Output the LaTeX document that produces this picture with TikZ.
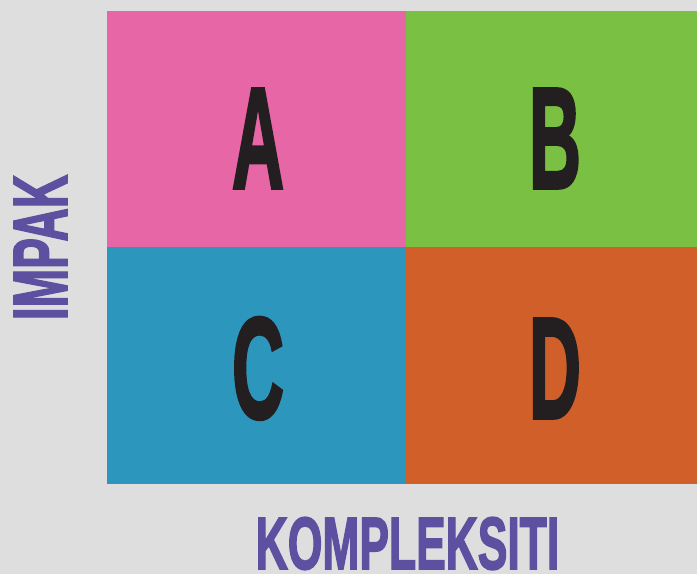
\documentclass[tikz,border=0pt]{standalone}
\usepackage{fontspec}
\usepackage{graphicx}
\newfontfamily\heavy[FakeBold=2.5]{Liberation Sans}
\definecolor{bgc}{HTML}{DEDEDE}
\definecolor{qpink}{HTML}{E766A5}
\definecolor{qgreen}{HTML}{7AC143}
\definecolor{qblue}{HTML}{2C96BC}
\definecolor{qorange}{HTML}{D15F2A}
\definecolor{ink}{HTML}{231F20}
\definecolor{axis}{HTML}{5E50A0}
\tikzset{
  quad/.style={fill=#1, draw=none},
  letter/.style={text=ink, inner sep=0pt, anchor=base, font=\heavy\bfseries\fontsize{144}{144}\selectfont},
  axislabel/.style={text=axis, inner sep=0pt, anchor=base, font=\heavy\bfseries\fontsize{77}{77}\selectfont}
}
\begin{document}
\begin{tikzpicture}[x=1pt,y=-1pt]
\fill[bgc] (0,0) rectangle (697,574);
\useasboundingbox (0,0) rectangle (697,574);
\fill[quad=qpink] (107,11) rectangle (406,247);
\fill[quad=qgreen] (406,11) rectangle (697,247);
\fill[quad=qblue] (107,247) rectangle (406,484);
\fill[quad=qorange] (406,247) rectangle (697,484);
\node[letter] (A) at (258,188) {\scalebox{0.5}[1]{A}};
\node[letter] (B) at (555,188) {\scalebox{0.5}[1]{B}};
\node[letter] (C) at (258,418) {\scalebox{0.5}[1]{C}};
\node[letter] (D) at (555,418) {\scalebox{0.5}[1]{D}};
\node[axislabel, rotate=90] (impak) at (67,247.5) {\scalebox{0.6}[1]{IMPAK}};
\node[axislabel, font=\heavy\bfseries\fontsize{74}{74}\selectfont] (komp) at (407.5,569) {\scalebox{0.6}[1]{KOMPLEKSITI}};
\end{tikzpicture}
\end{document}
